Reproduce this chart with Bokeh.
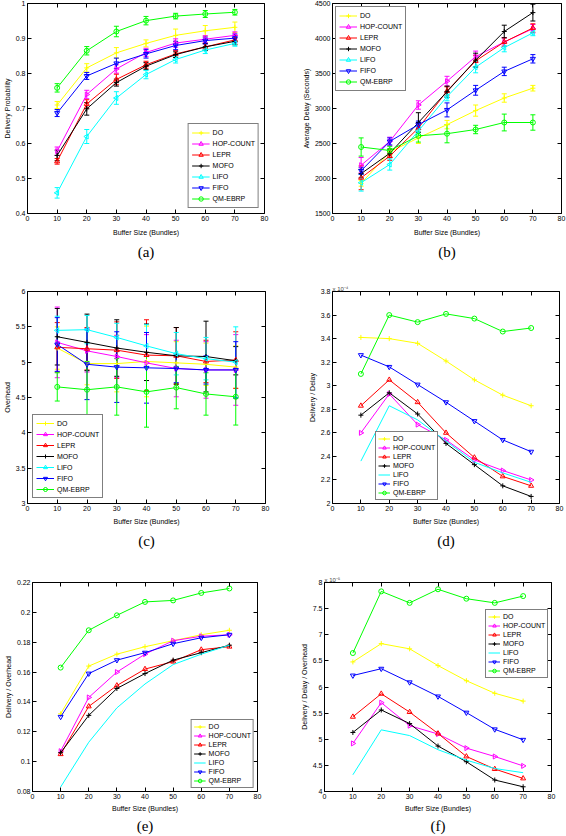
import numpy as np
from bokeh.plotting import figure
from bokeh.models import (ColumnDataSource, Whisker, TeeHead, Legend, LegendItem,
                          LinearAxis, Range1d, Title, FixedTicker, CustomJSTickFormatter)
from bokeh.layouts import column, row
from bokeh.embed import file_html
from bokeh.resources import INLINE

# ---------------- data ----------------
buffer_sizes = [10, 20, 30, 40, 50, 60, 70]
x_ticks = [0, 10, 20, 30, 40, 50, 60, 70, 80]
names = ["DO", "HOP-COUNT", "LEPR", "MOFO", "LIFO", "FIFO", "QM-EBRP"]
colors = ["#FFFF00", "#FF00FF", "#FF0000", "#000000", "#00FFFF", "#0000FF", "#00FF00"]

# (a) Delivery Probability
a_do = [0.710, 0.816, 0.859, 0.886, 0.909, 0.922, 0.932]
a_hop = [0.578, 0.740, 0.813, 0.860, 0.887, 0.898, 0.909]
a_lepr = [0.549, 0.713, 0.783, 0.825, 0.856, 0.876, 0.896]
a_mofo = [0.566, 0.699, 0.774, 0.821, 0.854, 0.876, 0.892]
a_lifo = [0.459, 0.620, 0.730, 0.797, 0.840, 0.867, 0.886]
a_fifo = [0.687, 0.793, 0.829, 0.856, 0.880, 0.894, 0.901]
a_qm = [0.759, 0.865, 0.920, 0.951, 0.964, 0.970, 0.975]
a_err_do = [0.010, 0.012, 0.015, 0.010, 0.018, 0.015, 0.015]
a_err_hop = [0.012, 0.012, 0.012, 0.012, 0.012, 0.010, 0.010]
a_err_lepr = [0.008, 0.012, 0.015, 0.010, 0.010, 0.010, 0.012]
a_err_mofo = [0.015, 0.018, 0.010, 0.010, 0.008, 0.010, 0.010]
a_err_lifo = [0.015, 0.020, 0.018, 0.012, 0.010, 0.010, 0.008]
a_err_fifo = [0.010, 0.010, 0.015, 0.012, 0.012, 0.010, 0.012]
a_err_qm = [0.012, 0.012, 0.015, 0.012, 0.008, 0.010, 0.008]
a_yticks = [0.4, 0.5, 0.6, 0.7, 0.8, 0.9, 1.0]

# (b) Average Delay (Seconds)
b_do = [1930, 2380, 2580, 2770, 2970, 3150, 3290]
b_hop = [2190, 2530, 3050, 3390, 3740, 3950, 4140]
b_lepr = [2010, 2320, 2720, 3250, 3680, 3950, 4150]
b_mofo = [2070, 2360, 2800, 3240, 3690, 4100, 4370]
b_lifo = [1940, 2200, 2680, 3170, 3590, 3870, 4080]
b_fifo = [2110, 2530, 2770, 2980, 3260, 3530, 3710]
b_qm = [2450, 2400, 2610, 2640, 2700, 2800, 2800]
b_err_do = [40, 40, 80, 60, 80, 60, 40]
b_err_hop = [110, 60, 60, 70, 80, 60, 60]
b_err_lepr = [170, 60, 60, 60, 80, 60, 60]
b_err_mofo = [60, 60, 140, 80, 100, 90, 120]
b_err_lifo = [120, 80, 60, 60, 80, 60, 40]
b_err_fifo = [50, 50, 50, 100, 70, 60, 60]
b_err_qm = [130, 60, 90, 130, 60, 120, 110]
b_yticks = [1500, 2000, 2500, 3000, 3500, 4000, 4500]

# (c) Overhead
c_do = [5.20, 4.98, 4.98, 5.01, 4.99, 4.97, 4.93]
c_hop = [5.28, 5.16, 5.08, 4.99, 4.91, 4.89, 4.89]
c_lepr = [5.21, 5.19, 5.17, 5.10, 5.09, 5.01, 5.03]
c_mofo = [5.36, 5.28, 5.20, 5.14, 5.09, 5.08, 5.02]
c_lifo = [5.45, 5.46, 5.35, 5.23, 5.12, 5.05, 5.00]
c_fifo = [5.25, 4.97, 4.93, 4.92, 4.91, 4.89, 4.89]
c_qm = [4.65, 4.61, 4.65, 4.58, 4.64, 4.55, 4.51]
c_err_do = [0.30, 0.30, 0.40, 0.50, 0.30, 0.30, 0.30]
c_err_hop = [0.50, 0.30, 0.30, 0.40, 0.40, 0.40, 0.50]
c_err_lepr = [0.35, 0.30, 0.40, 0.50, 0.40, 0.30, 0.40]
c_err_mofo = [0.40, 0.40, 0.40, 0.40, 0.40, 0.50, 0.20]
c_err_lifo = [0.20, 0.20, 0.20, 0.30, 0.30, 0.30, 0.50]
c_err_fifo = [0.38, 0.50, 0.50, 0.50, 0.20, 0.20, 0.40]
c_err_qm = [0.20, 0.40, 0.40, 0.50, 0.30, 0.30, 0.40]
c_yticks = [3.0, 3.5, 4.0, 4.5, 5.0, 5.5, 6.0]

# (d) Delivery / Delay  (x 10^-4)
d_do = [3.41, 3.40, 3.36, 3.21, 3.05, 2.92, 2.83]
d_hop = [2.60, 2.93, 2.67, 2.54, 2.37, 2.28, 2.20]
d_lepr = [2.83, 3.05, 2.86, 2.60, 2.39, 2.23, 2.15]
d_mofo = [2.75, 2.94, 2.76, 2.51, 2.33, 2.15, 2.06]
d_lifo = [2.36, 2.83, 2.71, 2.53, 2.35, 2.26, 2.18]
d_fifo = [3.26, 3.16, 3.01, 2.86, 2.70, 2.54, 2.44]
d_qm = [3.10, 3.60, 3.54, 3.61, 3.57, 3.46, 3.49]
d_yticks = [2.0, 2.2, 2.4, 2.6, 2.8, 3.0, 3.2, 3.4, 3.6, 3.8]

# (e) Delivery / Overhead
e_do = [0.132, 0.164, 0.172, 0.177, 0.181, 0.185, 0.188]
e_hop = [0.107, 0.143, 0.160, 0.172, 0.181, 0.184, 0.185]
e_lepr = [0.105, 0.137, 0.151, 0.162, 0.167, 0.175, 0.177]
e_mofo = [0.106, 0.131, 0.149, 0.159, 0.168, 0.173, 0.178]
e_lifo = [0.083, 0.113, 0.136, 0.152, 0.165, 0.172, 0.178]
e_fifo = [0.130, 0.159, 0.168, 0.173, 0.179, 0.183, 0.185]
e_qm = [0.163, 0.188, 0.198, 0.207, 0.208, 0.213, 0.216]
e_yticks = [0.08, 0.1, 0.12, 0.14, 0.16, 0.18, 0.2, 0.22]

# (f) Delivery / Delay / Overhead  (x 10^-5)
f_do = [6.48, 6.83, 6.73, 6.41, 6.12, 5.88, 5.73]
f_hop = [4.92, 5.70, 5.26, 5.10, 4.83, 4.67, 4.49]
f_lepr = [5.43, 5.87, 5.52, 5.11, 4.67, 4.43, 4.25]
f_mofo = [5.13, 5.56, 5.30, 4.87, 4.57, 4.22, 4.09]
f_lifo = [4.32, 5.18, 5.07, 4.80, 4.60, 4.44, 4.36]
f_fifo = [6.22, 6.35, 6.09, 5.82, 5.51, 5.19, 4.99]
f_qm = [6.65, 7.83, 7.61, 7.87, 7.69, 7.61, 7.74]
f_yticks = [4.0, 4.5, 5.0, 5.5, 6.0, 6.5, 7.0, 7.5, 8.0]

# marker per series: (marker, angle)
marker_spec = [("cross", 0.0), ("triangle", -np.pi / 2), ("triangle", 0.0), ("cross", 0.0),
               ("triangle", np.pi / 2), ("inverted_triangle", 0.0), ("circle", 0.0)]

FONT = "Liberation Sans"


def style_axis(ax, ticks, labels=True, label_text=None, label_standoff=5):
    ax.ticker = FixedTicker(ticks=ticks)
    ax.formatter = CustomJSTickFormatter(code="return String(tick)")
    ax.major_tick_in = 4
    ax.major_tick_out = 0
    ax.minor_tick_line_color = None
    ax.axis_line_color = None
    ax.major_tick_line_color = "black"
    ax.major_label_text_font = FONT
    if labels:
        ax.major_label_text_color = "black"
        ax.major_label_text_font_size = "7px"
        ax.major_label_standoff = 2
        ax.axis_label = label_text
        ax.axis_label_text_font = FONT
        ax.axis_label_text_font_size = "7px"
        ax.axis_label_text_font_style = "normal"
        ax.axis_label_text_color = "black"
        ax.axis_label_standoff = label_standoff
    else:
        ax.major_label_text_color = None
        ax.major_label_text_font_size = "1px"
        ax.major_label_standoff = 0
        ax.axis_label = None


def make_panel(series, errs, yr, yticks, ylabel, caption, w, h, bl, br, bt, bb,
               leg_loc, leg_margin, glyph_w, leg_glyph_h, leg_spacing, leg_pad, cap_standoff,
               xlab_standoff=5, expo=None, no_marker=()):
    p = figure(width=w, height=h, x_range=Range1d(0, 80), y_range=Range1d(*yr),
               output_backend="svg", toolbar_location=None,
               min_border_left=bl, min_border_right=br, min_border_top=bt, min_border_bottom=bb)
    p.xgrid.visible = False
    p.ygrid.visible = False
    p.outline_line_color = "black"
    p.outline_line_width = 1
    p.outline_line_alpha = 1
    p.background_fill_color = "white"
    p.border_fill_color = "white"
    style_axis(p.xaxis[0], x_ticks, True, "Buffer Size (Bundles)", xlab_standoff)
    style_axis(p.yaxis[0], yticks, True, ylabel, 2)
    top = LinearAxis()
    style_axis(top, x_ticks, False)
    p.add_layout(top, "above")
    right = LinearAxis()
    style_axis(right, yticks, False)
    p.add_layout(right, "right")

    items = []
    for i, name in enumerate(names):
        col = colors[i]
        vals = series[i]
        data = dict(x=buffer_sizes, y=vals)
        if errs is not None:
            data["lo"] = [v - e for v, e in zip(vals, errs[i])]
            data["hi"] = [v + e for v, e in zip(vals, errs[i])]
        src = ColumnDataSource(data)
        if errs is not None:
            wk = Whisker(source=src, base="x", upper="hi", lower="lo", line_color=col, line_width=1,
                         upper_head=TeeHead(size=5, line_color=col, line_width=1),
                         lower_head=TeeHead(size=5, line_color=col, line_width=1))
            p.add_layout(wk)
        lr = p.line("x", "y", source=src, line_color=col, line_width=1)
        rends = [lr]
        if i not in no_marker:
            m, ang = marker_spec[i]
            sr = p.scatter("x", "y", source=src, marker=m, angle=ang, size=5,
                           line_color=col, fill_color=None, line_width=1)
            rends.append(sr)
        items.append(LegendItem(label=name, renderers=rends))

    leg = Legend(items=items, location=leg_loc, label_text_font=FONT, label_text_font_size="7px",
                 label_text_color="black", glyph_width=glyph_w, glyph_height=leg_glyph_h,
                 label_height=leg_glyph_h, spacing=leg_spacing, padding=leg_pad, margin=leg_margin,
                 label_standoff=3, border_line_color="black", border_line_width=1,
                 background_fill_color="white", background_fill_alpha=1)
    p.add_layout(leg)

    if expo is not None:
        p.add_layout(Title(text=expo, align="left", text_font=FONT, text_font_size="6px",
                           text_font_style="normal", standoff=0, offset=0), "above")

    p.add_layout(Title(text=caption, align="center", text_font="Liberation Serif",
                       text_font_size="15px", text_font_style="normal", text_color="black",
                       text_line_height=1.0, standoff=cap_standoff), "below")
    return p


pa = make_panel([a_do, a_hop, a_lepr, a_mofo, a_lifo, a_fifo, a_qm],
                [a_err_do, a_err_hop, a_err_lepr, a_err_mofo, a_err_lifo, a_err_fifo, a_err_qm],
                (0.4, 1.0), a_yticks, "Delivery Probability", "(a)",
                283, 265, 23, 19, 3, 52, "bottom_right", 5, 18, 11, 0, 3, 7)
pb = make_panel([b_do, b_hop, b_lepr, b_mofo, b_lifo, b_fifo, b_qm],
                [b_err_do, b_err_hop, b_err_lepr, b_err_mofo, b_err_lifo, b_err_fifo, b_err_qm],
                (1500, 4500), b_yticks, "Average Delay (Seconds)", "(b)",
                283, 265, 49, 5, 3, 52, "top_left", 3, 18, 11, 0, 3, 7)
pc = make_panel([c_do, c_hop, c_lepr, c_mofo, c_lifo, c_fifo, c_qm],
                [c_err_do, c_err_hop, c_err_lepr, c_err_mofo, c_err_lifo, c_err_fifo, c_err_qm],
                (3.0, 6.0), c_yticks, "Overhead", "(c)",
                283, 291, 24, 18, 26, 53, "bottom_left", 5, 18, 10, 1, 3, 7, xlab_standoff=4)
pd = make_panel([d_do, d_hop, d_lepr, d_mofo, d_lifo, d_fifo, d_qm], None,
                (2.0, 3.8), d_yticks, "Delivery / Delay", "(d)",
                283, 291, 49, 7, 25, 53, (43, 3), 0, 12, 9, 0, 2, 7, xlab_standoff=4,
                expo="x 10⁻⁴", no_marker=(4,))
pe = make_panel([e_do, e_hop, e_lepr, e_mofo, e_lifo, e_fifo, e_qm], None,
                (0.08, 0.22), e_yticks, "Delivery / Overhead", "(e)",
                283, 280, 32, 26, 26, 45, "bottom_right", 3, 12, 9, 0, 2, 3, xlab_standoff=3,
                no_marker=(4,))
pf = make_panel([f_do, f_hop, f_lepr, f_mofo, f_lifo, f_fifo, f_qm], None,
                (4.0, 8.0), f_yticks, "Delivery / Delay / Overhead", "(f)",
                283, 280, 41, 15, 23, 45, (161, 113), 0, 12, 9, 0, 2, 3, xlab_standoff=3,
                expo="x 10⁻⁵", no_marker=(4,))

layout = column(row(pa, pb, spacing=0), row(pc, pd, spacing=0), row(pe, pf, spacing=0), spacing=0)

open("out.html", "w").write(file_html(layout, INLINE))
